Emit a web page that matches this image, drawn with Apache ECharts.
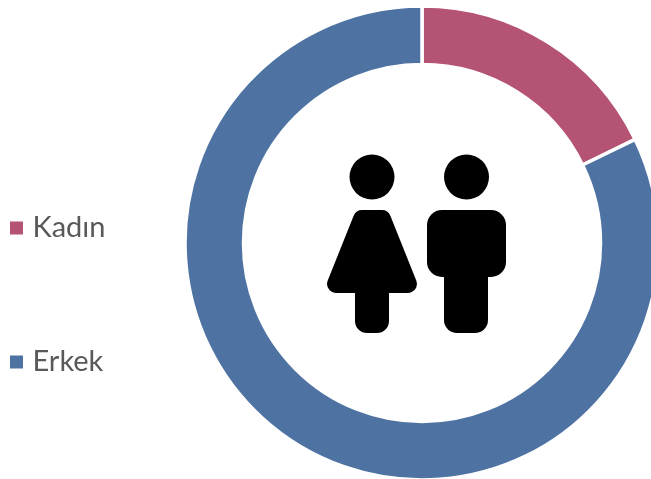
<!DOCTYPE html>
<html>
<head>
<meta charset="utf-8">
<style>html,body{margin:0;padding:0;background:#fff;overflow:hidden}#chart{width:651px;height:479px}</style>
<script src="https://cdn.jsdelivr.net/npm/echarts@6/dist/echarts.min.js"></script>
</head>
<body>
<div id="chart"></div>
<script>
// Share of each group, in percent
const categories = ['Kadın', 'Erkek'];
const shares = [17.8, 82.2];
const sliceColors = ['#B45373', '#4E73A3'];

const black = { fill: '#000' };

const chart = echarts.init(document.getElementById('chart'), null, { renderer: 'canvas' });
chart.setOption({
  animation: false,
  color: sliceColors,
  legend: {
    orient: 'vertical',
    left: 5,
    top: 207,
    selectedMode: false,
    icon: 'rect',
    itemWidth: 13,
    itemHeight: 13,
    itemGap: 102,
    itemStyle: { borderWidth: 0 },
    textStyle: { fontFamily: 'Lato', fontSize: 29, color: '#595959', lineHeight: 32, padding: [0, 0, 0, 4.5] },
    data: categories
  },
  series: [{
    type: 'pie',
    center: [422, 243],
    radius: [178.5, 237],
    startAngle: 90,
    clockwise: true,
    label: { show: false },
    labelLine: { show: false },
    silent: true,
    itemStyle: { borderColor: '#fff', borderWidth: 3.5 },
    data: categories.map((name, i) => ({ name, value: shares[i] }))
  }],
  // Woman and man silhouettes in the middle of the ring
  graphic: [
    { type: 'circle', shape: { cx: 372, cy: 177, r: 22.5 }, style: black, silent: true },
    {
      type: 'polygon',
      shape: { points: [[362, 219], [382, 219], [408, 284], [336, 284]] },
      style: { fill: '#000', stroke: '#000', lineWidth: 18, lineJoin: 'round' },
      silent: true
    },
    { type: 'rect', shape: { x: 355, y: 270, width: 34, height: 63, r: 12 }, style: black, silent: true },
    { type: 'circle', shape: { cx: 466.5, cy: 177, r: 22.5 }, style: black, silent: true },
    { type: 'rect', shape: { x: 427, y: 210, width: 79, height: 67, r: 15 }, style: black, silent: true },
    { type: 'rect', shape: { x: 444, y: 250, width: 44, height: 83, r: 13 }, style: black, silent: true }
  ]
});
</script>
</body>
</html>
